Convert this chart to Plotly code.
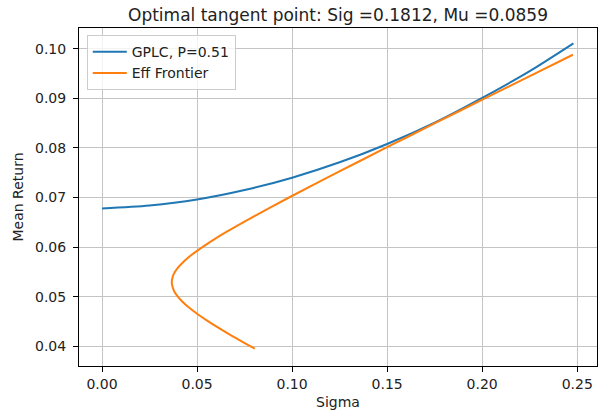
import plotly.graph_objects as go

# GPLC curve
gplc_sigma = [0.000, 0.025, 0.050, 0.075, 0.100, 0.125, 0.150, 0.175, 0.200, 0.225, 0.248]
gplc_mu = [0.0678, 0.0684, 0.0696, 0.0715, 0.0740, 0.0771, 0.0808, 0.0851, 0.0901, 0.0955, 0.1011]

# Efficient frontier
eff_mu = [0.0395, 0.0420, 0.0435, 0.0450, 0.0465, 0.0480, 0.0490, 0.0500, 0.0510, 0.0520, 0.0529,
          0.0540, 0.0550, 0.0560, 0.0570, 0.0580, 0.0600, 0.0615, 0.0630, 0.0660, 0.0700,
          0.0750, 0.0800, 0.0850, 0.0900, 0.0950, 0.0988]
eff_sigma = [0.0804, 0.0688, 0.0622, 0.0559, 0.0502, 0.0451, 0.0422, 0.0399, 0.0381, 0.0371, 0.0367,
             0.0372, 0.0384, 0.0403, 0.0428, 0.0457, 0.0528, 0.0588, 0.0652, 0.0790, 0.0984,
             0.1236, 0.1492, 0.1752, 0.2014, 0.2277, 0.2477]

title_text = "Optimal tangent point: Sig =0.1812, Mu =0.0859"
x_ticks = [0.00, 0.05, 0.10, 0.15, 0.20, 0.25]
y_ticks = [0.04, 0.05, 0.06, 0.07, 0.08, 0.09, 0.10]

FONT = "DejaVu Sans"

fig = go.Figure()
fig.add_trace(go.Scatter(x=gplc_sigma, y=gplc_mu, mode="lines", name="GPLC, P=0.51",
                         line=dict(color="#1f77b4", width=2, shape="spline", smoothing=0.8),
                         legendgroup="a"))
fig.add_trace(go.Scatter(x=eff_sigma, y=eff_mu, mode="lines", name="Eff Frontier",
                         line=dict(color="#ff7f0e", width=2, shape="spline", smoothing=0.8),
                         legendgroup="b"))

axis_common = dict(
    showline=True, linecolor="black", linewidth=1, mirror=True,
    ticks="outside", ticklen=5, tickwidth=1, tickcolor="black",
    showgrid=True, gridcolor="#c4c4c4", gridwidth=1, zeroline=False,
    tickfont=dict(family=FONT, size=14, color="#222"),
)

fig.update_layout(
    width=607, height=418,
    margin=dict(l=79, r=10, t=28, b=52),
    paper_bgcolor="white", plot_bgcolor="white",
    font=dict(family=FONT, size=14, color="#222"),
    title=dict(text=title_text, x=0.5, xref="paper", xanchor="center",
               y=1, yref="paper", yanchor="bottom", pad=dict(b=7),
               font=dict(family=FONT, size=17, color="#222")),
    xaxis=dict(range=[-0.0121, 0.2604], tickvals=x_ticks, tickformat=".2f",
               title=dict(text="Sigma", standoff=6, font=dict(family=FONT, size=14, color="#222")),
               **axis_common),
    yaxis=dict(range=[0.0360, 0.1042], tickvals=y_ticks, tickformat=".2f",
               title=dict(text="Mean Return", standoff=8, font=dict(family=FONT, size=14, color="#222")),
               ticklabelstandoff=4,
               **axis_common),
    showlegend=True,
    legend=dict(x=0.015, y=0.979, xanchor="left", yanchor="top",
                bgcolor="rgba(255,255,255,0.8)", bordercolor="#cccccc", borderwidth=1,
                font=dict(family=FONT, size=14, color="#222"),
                itemwidth=34, tracegroupgap=0),
)

fig.write_html("out.html")
